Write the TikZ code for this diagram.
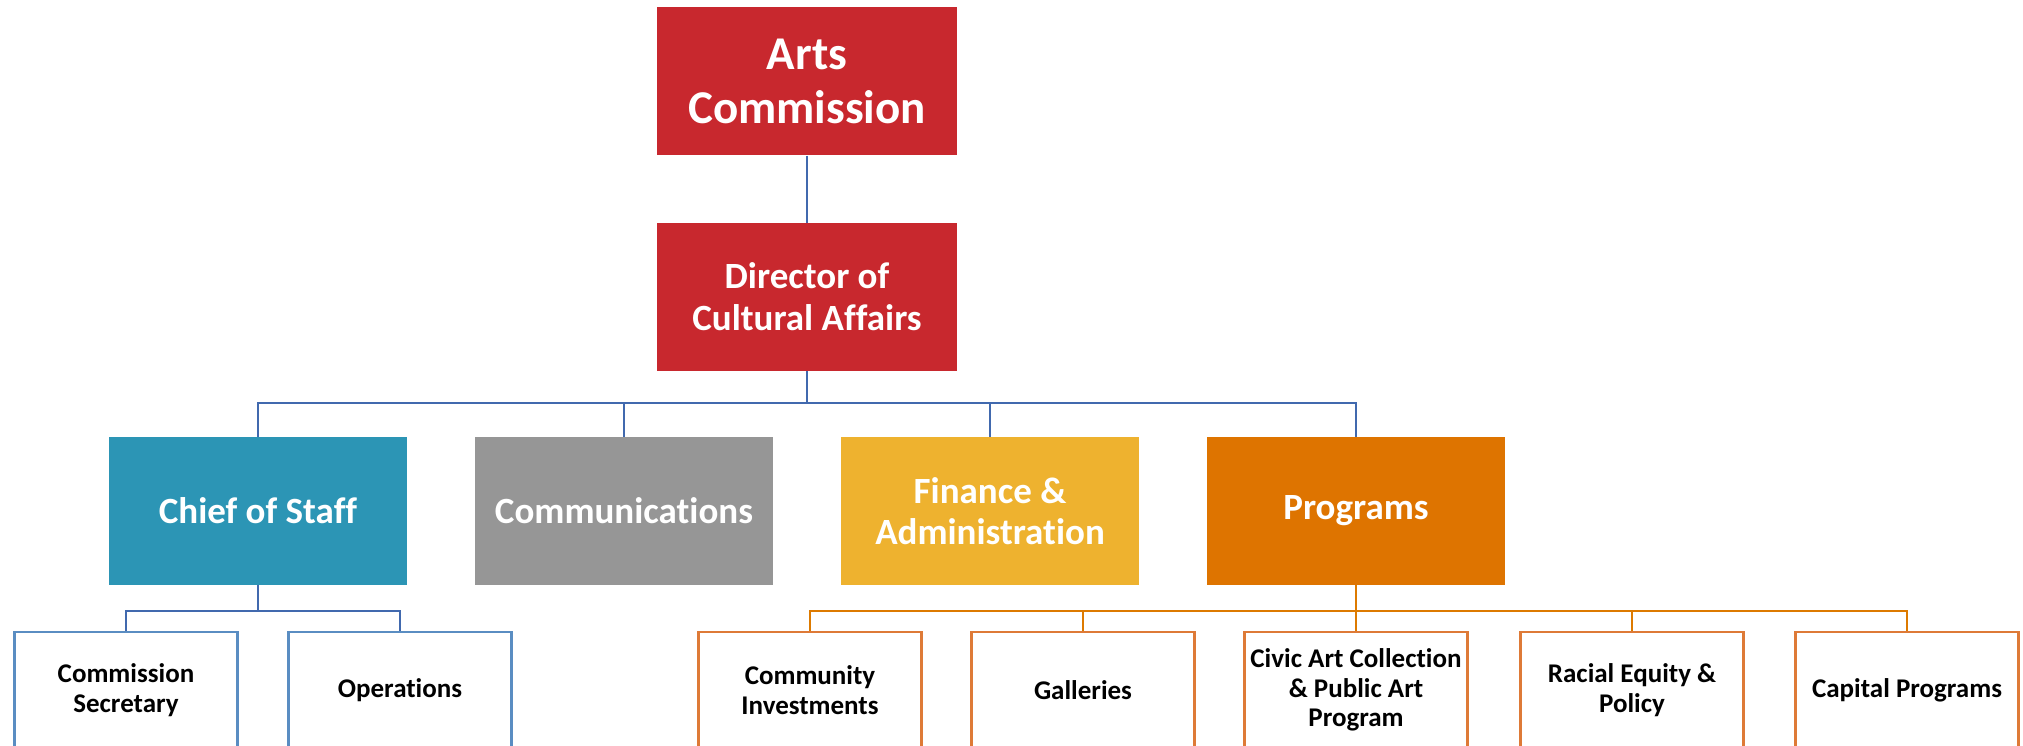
\documentclass[tikz,border=0pt]{standalone}
\usepackage{fontspec}
\setmainfont{Carlito}[Ligatures={NoCommon}]
\definecolor{cred}{HTML}{C8282E}
\definecolor{cteal}{HTML}{2C95B5}
\definecolor{cgray}{HTML}{969696}
\definecolor{cgold}{HTML}{EEB22F}
\definecolor{corange}{HTML}{DE7400}
\definecolor{lblue}{HTML}{4169AE}
\definecolor{bblue}{HTML}{5A8DC2}
\definecolor{borange}{HTML}{DE7A37}
\definecolor{lorange}{HTML}{DD7A00}
\tikzset{
  topbox/.style={fill=cred, text=white, minimum width=300pt, minimum height=148pt, inner sep=0pt, align=center, font=\bfseries},
  midbox/.style={minimum width=298pt, minimum height=148pt, inner sep=0pt, align=center, text=white, font=\bfseries\fontsize{37}{41}\selectfont},
  lowbox/.style={draw, line width=2.6pt, fill=white, minimum width=223pt, minimum height=116pt, inner sep=0pt, align=center, text=black, font=\bfseries\fontsize{27}{29.5}\selectfont},
  bluebox/.style={lowbox, draw=bblue},
  orbox/.style={lowbox, draw=borange},
  bline/.style={draw=lblue, line width=2.6pt},
  oline/.style={draw=lorange, line width=2.6pt},
}
\begin{document}
\begin{tikzpicture}[x=1pt,y=-1pt]
\useasboundingbox (0,0) rectangle (2023,746);
\begin{scope}
\clip (0,0) rectangle (2023,746);
\node[topbox, font=\bfseries\fontsize{47}{54}\selectfont] (arts) at (807,81.5) {Arts\\Commission};
\node[topbox, font=\bfseries\fontsize{37}{42}\selectfont] (dir) at (807,297) {Director of\\Cultural Affairs};
\node[midbox, fill=cteal] (cos) at (258,511) {Chief of Staff};
\node[midbox, fill=cgray] (comm) at (624,511) {Communications};
\node[midbox, fill=cgold] (fin) at (990,511) {Finance \&\\Administration};
\node[midbox, fill=corange] (prog) at (1356,511) {Programs};

\node[bluebox] (cs) at (126,690) {Commission\\Secretary};
\node[bluebox] (ops) at (400,690) {Operations};

\node[orbox] (ci) at (810,690) {Community\\Investments};
\node[orbox] (gal) at (1083,690) {Galleries};
\node[orbox] (civic) at (1356,690) {Civic Art Collection\\\& Public Art\\Program};
\node[orbox] (rac) at (1632,690) {Racial Equity \&\\Policy};
\node[orbox] (cap) at (1907,690) {Capital Programs};

\coordinate (bus1) at (807,403);
\coordinate (bus2) at (258,611);
\coordinate (bus3) at (1356,611);

\draw[bline] (arts.south) -- (dir.north);
\draw[bline] (dir.south) -- (bus1);
\draw[bline] (cos.north) |- (bus1) -| (prog.north);
\draw[bline] (comm.north) |- (bus1);
\draw[bline] (fin.north) |- (bus1);

\draw[bline] (cos.south) -- (bus2);
\draw[bline] (cs.north) |- (bus2) -| (ops.north);

\draw[oline] (prog.south) -- (bus3);
\draw[oline] (ci.north) |- (bus3) -| (cap.north);
\draw[oline] (gal.north) |- (bus3);
\draw[oline] (civic.north) -- (bus3);
\draw[oline] (rac.north) |- (bus3);
\end{scope}
\end{tikzpicture}
\end{document}
